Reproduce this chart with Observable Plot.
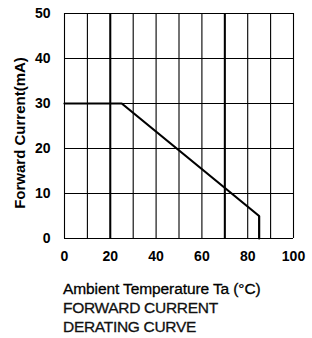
<!DOCTYPE html>
<html>
<head>
<meta charset="utf-8">
<script src="https://cdn.jsdelivr.net/npm/d3@7"></script>
<script src="https://cdn.jsdelivr.net/npm/@observablehq/plot@0.6"></script>
<style>
  html, body { margin: 0; padding: 0; background: #fff; }
  #chart { width: 312px; height: 338px; position: relative; overflow: hidden; }
  .cap { font-family: "Liberation Sans", Arial, sans-serif; color: #000; padding-left: 63px; margin-top: 10.5px; font-size: 15.5px; line-height: 19px; -webkit-text-stroke: 0.3px #000; }
  .cap .t1 { letter-spacing: -0.1px; }
  .cap .t2 { letter-spacing: -0.3px; color: #111; -webkit-text-stroke: 0.3px #111; }
</style>
</head>
<body>
<div id="chart"></div>
<script>
// Data: forward current derating curve
const temperature = [0, 25, 85, 85];      // Ta (°C)
const current = [30, 30, 5, 0];           // IF (mA)

// Axis ticks
const xTicks = [0, 20, 40, 60, 80, 100];
const yTicks = [0, 10, 20, 30, 40, 50];
const xGrid = [0, 10, 20, 30, 40, 50, 60, 70, 80, 90, 100];
const xGridBold = [20, 70];
const yGrid = [0, 10, 20, 30, 40, 50];

const yLabel = "Forward Current(mA)";
const xLabel = "Ambient Temperature Ta (°C)";
const titleLines = ["FORWARD CURRENT", "DERATING CURVE"];

const pts = temperature.map((t, i) => ({t, c: current[i]}));

const svg = Plot.plot({
  width: 312,
  height: 268,
  marginLeft: 64,
  marginRight: 19,
  marginTop: 13,
  marginBottom: 30,
  style: {fontFamily: "'Liberation Sans', Arial, sans-serif", fontSize: "14px", fontWeight: "bold", color: "#000", background: "#fff"},
  x: {domain: [0, 100], ticks: xTicks, tickSize: 0, tickPadding: 13, label: null},
  y: {domain: [0, 50], ticks: yTicks, tickSize: 0, tickPadding: 14, label: null},
  marks: [
    Plot.ruleX(xGrid, {stroke: "#000", strokeWidth: 1.1}),
    Plot.ruleX(xGridBold, {stroke: "#000", strokeWidth: 2}),
    Plot.ruleY(yGrid, {stroke: "#000", strokeWidth: 1.1}),
    Plot.line(pts, {x: "t", y: "c", stroke: "#000", strokeWidth: 2.2, strokeLinejoin: "miter"}),
    Plot.text([yLabel], {frameAnchor: "left", textAnchor: "middle", rotate: -90, dx: -44, dy: 7, fontSize: 15, fontWeight: "bold", fill: "#000"})
  ]
});

const chart = document.getElementById("chart");
chart.appendChild(svg);
const cap = document.createElement("div");
cap.className = "cap";
const l1 = document.createElement("div");
l1.className = "t1";
l1.textContent = xLabel;
cap.appendChild(l1);
for (const s of titleLines) {
  const d = document.createElement("div");
  d.className = "t2";
  d.textContent = s;
  cap.appendChild(d);
}
chart.appendChild(cap);
</script>
</body>
</html>
